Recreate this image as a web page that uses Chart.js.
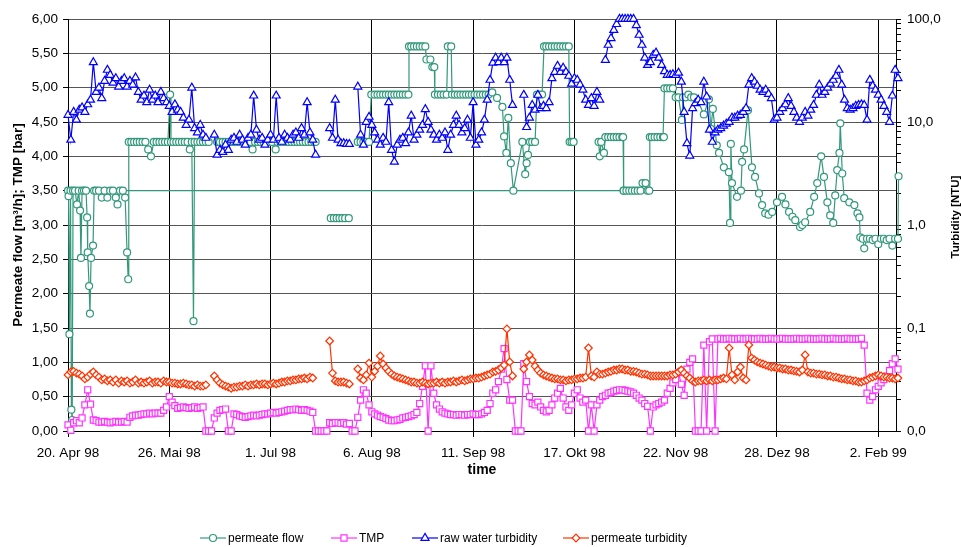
<!DOCTYPE html>
<html>
<head>
<meta charset="utf-8">
<script src="https://cdn.jsdelivr.net/npm/chart.js@4.4.0/dist/chart.umd.min.js"></script>
<style>
  html, body { margin: 0; padding: 0; background: #fff; }
</style>
</head>
<body>
<canvas id="chart" width="961" height="547"></canvas>
<script>
// x axis is "days since 20. Apr 98", one reading per day
const tickLabels = ['20. Apr 98', '26. Mai 98', '1. Jul 98', '6. Aug 98', '11. Sep 98', '17. Okt 98', '22. Nov 98', '28. Dez 98', '2. Feb 99']
const days = Array.from({ length: 296 }, (_, i) => i)

// raw water turbidity [NTU]
const rawTurbidity = [
  11.7, 6.7, 12.5, 10.5, 13.1, 13.8, 12.5, 14.8, 16.4, 38,
  19.5, 21.5, 17, 25, 32, 28.6, 24, 26.5, 22, 25,
  26.5, 22, 25, 23, 27, 19.5, 16.4, 18, 15.5, 20.5,
  16.4, 18, 15.5, 19.5, 17, 15.5, 14.3, 12.5, 14.8, 13.1,
  12.5, 11, 9.35, 10.5, 21.5, 8.7, 7.9, 9.35, 7.5, 7,
  null, null, 7.5, 4.8, 5.35, 5.1, 6, 5.35, 6.7, 7,
  6.4, 7.5, 6.7, 6, 7, 7.5, 18, 8.4, 6.7, 7,
  6, 6.7, 7.5, 6.7, 18, 7, 6.4, 7.5, 7, 6.7,
  7.5, 7.9, 7, 8.7, 7.5, 15.5, 7.9, 6.7, 4.8, null,
  null, null, null, 8.7, 7, 16.4, 6.7, 6.2, 6.2, 6.1,
  6.1, null, null, 22, 7.5, 6, 10, 11.2, 9.35, 7.9,
  6.7, 6, 7, 6.4, 15.5, 5.35, 4.1, 6, 6.7, 7,
  6.2, 7.9, 11.5, 6.7, 7.5, 8.4, 9.35, 13.3, 10, 8.4,
  7.5, 6.7, 7.5, 7, 7.9, 5.35, 7.5, 9.35, 11.5, 9.35,
  7.9, 8.7, 10.5, 7, 15.5, 6, 6.7, 7.9, 10.5, 16.4,
  25.6, 37.5, 42, 38, 42, 38, 42, 25.6, 14.6, null,
  null, null, 18.3, 8.9, 11, 14.6, 13.1, 18.3, 13.6, 14.3,
  13.6, 15.5, 26.5, 30.5, 35, 30.5, 33.5, 30.5, 28, 23.5,
  26.5, 25.6, 23, 20.5, 16.4, 14.6, 17, 14.3, 19.5, 16.4,
  null, 40, 56, 65, 78, 89, 100, 100, 100, 100,
  100, 100, 87, 70, 56, 42, 35.7, 38, 44.7, 47,
  42, 35.7, 31, 28.6, 28.6, 29, 28.6, 30, 24.5, 12.5,
  6.2, 4.7, 13.6, 15.2, 16.4, 15.5, 24.5, 17.6, 8.4, 6.4,
  7.9, 8.4, 8.7, 9.2, 9.6, 10, 11, 11, 11.5, 11.7,
  12.5, 13.6, 23, 26.6, 24.5, 22.4, 20.5, 19.5, 20.5, 18.7,
  17, 10.5, 11, 12.5, 13.6, 14.8, 17, 14.3, 12.5, 11,
  10, 11, 12.5, 11.5, 13.1, 14.6, 18.3, 23, 18.3, 19.5,
  21.5, 23.5, 25.6, 28, 32, 23, 16.4, 13.6, 13.1, 13.6,
  14.3, 14.6, 14.8, 14.6, 10.5, 25.6, 22.4, 20.5, 18.3, 16.4,
  14.3, 12.5, 10, 18, 32, 26.6
]

// permeate turbidity [NTU]
const permeateTurbidity = [
  .035, .0374, .038, .0365, .0357, .0342, .032, .0334, .0357, .0374,
  .035, .0334, .0313, .032, .0306, .0313, .0299, .0313, .0292, .0306,
  .0299, .0306, .0292, .0299, .0313, .0292, .0299, .0292, .0299, .0306,
  .0292, .0299, .0299, .0292, .0306, .0299, .0299, .0292, .0292, .0286,
  .0286, .0292, .0286, .028, .028, .0273, .028, .0273, .0273, .028,
  null, null, .0342, .0313, .0292, .028, .0273, .0267, .026, .0267,
  .0267, .0273, .0273, .028, .0273, .028, .028, .0286, .028, .0286,
  .0286, .028, .0286, .0292, .0286, .0292, .0299, .0299, .0306, .0306,
  .0313, .0313, .032, .032, .0327, .032, .0334, .0327, null, null,
  null, null, null, .0748, .0365, .0306, .0299, .0299, .0299, .0292,
  .0286, null, null, .04, .0327, .0313, .035, .0457, .0334, .038,
  .0427, .0535, .0447, .0409, .038, .0357, .0342, .0334, .0327, .032,
  .0313, .0306, .0299, .0299, .0292, .0292, .0299, .0292, .0286, .0292,
  .0292, .0299, .0292, .0299, .0292, .0299, .0299, .0306, .0299, .0306,
  .0313, .0306, .0313, .032, .032, .0327, .0327, .0334, .0342, .035,
  .0357, .0374, .038, .0391, .0409, .0437, .098, .0468, .0342, null,
  null, null, .04, .0468, .0547, .0489, .0427, .0391, .0365, .035,
  .0342, .0334, .0327, .032, .032, .0313, .0313, .0306, .0313, .0313,
  .032, .032, .0327, .0327, .0334, .064, .0342, .0334, .0374, .0357,
  .0357, .0365, .0374, .038, .0391, .0391, .04, .04, .0391, .0391,
  .038, .038, .0374, .0365, .0357, .0357, .035, .0342, .0342, .0342,
  .0342, .0342, .0342, .0342, .035, .035, .0357, .0374, .0391, .0365,
  .0342, .0327, .0306, .0299, .0306, .0306, .0313, .0306, .0313, .0306,
  .0313, .0313, .032, .0327, .032, .064, .035, .0313, .0374, .0418,
  .0327, .0313, .0684, .0511, .0489, .0468, .0457, .0447, .0437, .0427,
  .0418, .0418, .0409, .0409, .04, .04, .0391, .0391, .0383, .038,
  .0374, .0391, .0547, .0374, .0365, .0365, .0357, .0357, .035, .035,
  .0342, .0342, .0334, .0334, .0327, .032, .032, .0313, .0313, .0306,
  .0306, .0299, .0299, .0306, .0313, .0327, .0334, .0342, .035, .0342,
  .0334, .0334, .0327, .0327, .032, .0327
]

// TMP [bar]
const tmp = [
  0.09, 0.01, 0.12, 0.15, 0.12, 0.19, 0.38, 0.6, 0.39, 0.16,
  0.15, 0.13, 0.13, 0.14, 0.13, 0.12, 0.13, 0.14, 0.13, 0.13,
  0.14, 0.13, 0.2, 0.22, 0.23, 0.23, 0.24, 0.25, 0.25, 0.26,
  0.25, 0.26, 0.26, 0.26, 0.3, 0.35, 0.5, 0.42, 0.37, 0.33,
  0.34, 0.35, 0.34, 0.33, 0.34, 0.35, 0.33, 0.34, 0.35, 0,
  0, 0, 0.19, 0.26, 0.3, 0.31, 0.32, 0, 0, 0.25,
  0.24, 0.22, 0.21, 0.2, 0.21, 0.22, 0.23, 0.22, 0.23, 0.24,
  0.25, 0.25, 0.26, 0.27, 0.26, 0.27, 0.28, 0.29, 0.3, 0.31,
  0.31, 0.32, 0.31, 0.3, 0.31, 0.3, 0.29, 0.27, 0, 0,
  0, 0, 0, 0.12, 0.11, 0.12, 0.12, 0.11, 0.12, 0.1,
  0.11, 0, 0, 0.2, 0.45, 0.6, 0.55, 0.38, 0.28, 0.25,
  0.23, 0.21, 0.2, 0.18, 0.16, 0.15, 0.15, 0.16, 0.17, 0.19,
  0.2, 0.21, 0.22, 0.24, 0.27, 0.4, 0.65, 0.95, 0, 0.95,
  0.55, 0.38, 0.32, 0.28, 0.26, 0.25, 0.24, 0.24, 0.23, 0.24,
  0.24, 0.23, 0.24, 0.24, 0.25, 0.24, 0.24, 0.25, 0.27, 0.3,
  0.4, 0.55, 0.6, 0.72, 0.9, 1.2, 0.75, 0.45, 0.45, 0,
  0, 0, 0.98, 0.72, 0.5, 0.4, 0.38, 0.42, 0.35, 0.3,
  0.28, 0.3, 0.38, 0.48, 0.55, 0.62, 0.48, 0.35, 0.3, 0.38,
  0.55, 0.6, 0.48, 0.42, 0.45, 0, 0.38, 0, 0.38, 0.45,
  0.5, 0.52, 0.55, 0.56, 0.58, 0.59, 0.6, 0.6, 0.59, 0.58,
  0.57, 0.55, 0.52, 0.48, 0.45, 0.4, 0.36, 0, 0.35, 0.38,
  0.4, 0.42, 0.45, 0.55, 0.62, 0.7, 0.75, 0.85, 0.68, 0.52,
  0.9, 1.0, 1.05, 0, 0, 0, 1.25, 0, 1.3, 1.34,
  0, 1.34, 1.35, 1.34, 1.34, 1.35, 1.34, 1.34, 1.34, 1.35,
  1.34, 1.34, 1.35, 1.34, 1.34, 1.34, 1.35, 1.34, 1.34, 1.34,
  1.35, 1.34, 1.34, 1.34, 1.35, 1.34, 1.34, 1.34, 1.34, 1.35,
  1.34, 1.34, 1.34, 1.35, 1.34, 1.34, 1.34, 1.34, 1.35, 1.34,
  1.34, 1.34, 1.35, 1.34, 1.34, 1.34, 1.34, 1.35, 1.34, 1.34,
  1.34, 1.34, 1.35, 1.25, 0.55, 0.45, 0.5, 0.6, 0.65, 0.7,
  0.75, 0.8, 0.88, 0.98, 1.05, 0.9
]

// permeate flow [m3/h] - kept in the logger's row order (first row is a late entry)
const flowDays = [
  197.5, 0, 0.2, 0.5, 0.9, 1.2, 1.5, 1.8, 2.5, 3.2, 3.8, 4.3, 4.6, 5, 5.7, 6.4, 6.8, 7, 7.5, 7.8, 8.2, 8.9, 9.3,
  10, 11, 12, 13, 14, 15, 16, 17, 17.6, 18.5, 19.5, 20.3, 21, 21.4, 21.6,
  22.5, 23.5, 24.5, 25.5, 26.5, 27.5, 28.5, 29.5, 30.5, 31.5, 32.5, 33.5, 34.5, 35.5, 36.3, 36.6,
  37.5, 38.5, 39.5, 40.5, 41.5, 42.5, 43.3, 44, 44.6, 45, 46, 47, 48, 49, 50, 51,
  53, 54, 55, 56, 57, 58, 59, 60, 61, 62, 63, 64, 65, 65.6,
  66.5, 67.5, 68.5, 69.5, 70.5, 71.5, 72.5, 73.8,
  74.5, 75.5, 76.5, 77.5, 78.5, 79.5, 80.5, 81.5, 82.5, 83.5, 84.5, 85.5, 86.5, 87.5, 88, 89,
  93.4, 94.5, 95.5, 96.5, 97.5, 98.5, 99.8, 101,
  103, 104, 105, 106, 107, 107.8, 109, 110, 111, 112, 113, 114, 115, 116, 117, 118, 119, 120, 121,
  121.2, 122, 123, 124, 125, 126, 127, 127.4, 128.8, 129.5, 130.2, 130.4, 131.5, 132.5, 133.5, 134.6,
  135, 136.2, 136.5, 137.5, 138.5, 139.5, 140.5, 141.5, 142.5, 143.5, 144.5, 145.5, 146.5, 147.5, 148.5, 149.5,
  150.8, 152.5, 154.4, 155, 155.8, 156.5, 157.4, 158.3,
  161.5, 162.5, 163, 163.5, 164.2, 165, 166, 166.7, 167.5, 168.5, 169.2,
  170, 171, 172, 173, 174, 175, 176, 177, 178, 178.3, 179, 179.7, 181,
  188.6, 189, 189.5, 190.5, 191, 192, 193, 194, 195, 196, 197, 197.3,
  197.5, 198.5, 199.5, 200.5, 201.5, 202.5, 203.5, 204.2, 205.3, 206, 206.6,
  206.8, 207.5, 208.5, 209.5, 210.5, 211.5, 211.8, 212, 213, 214, 215,
  216, 217, 218.2, 218.6, 219.5, 220.5, 221.5, 222.5, 224, 226, 227.8, 228.5, 229.2, 230.6, 231.4,
  233.1, 234.9, 235.3, 235.6, 236, 237.8, 239.2, 239.6, 240.3, 241.7, 243.1, 244.2, 245.6, 246.7, 247.8,
  249, 250.3, 252, 253.8, 255, 256.3, 257.5, 258.5, 260.2, 261, 262, 263.8, 265.2, 266.3, 267.7,
  268.7, 269.9, 270.9, 272, 272.7, 273.4, 274.2, 274.5, 275.2, 275.9, 277.7, 279.5, 280.6, 281.3, 281.6,
  282.5, 283, 284, 285, 286, 287, 288, 289, 290, 291, 292, 293, 294, 295, 295.2
]
const permeateFlow = [
  3.5, 3.5, 3.42, 1.41, 3.5, 0.31, 0.16, 3.5, 3.5, 3.3, 3.5, 3.21, 2.52, 3.5, 3.5, 3.5, 3.11, 2.6, 2.11, 1.71, 2.52, 2.7, 3.5,
  3.5, 3.5, 3.4, 3.5, 3.4, 3.5, 3.5, 3.4, 3.3, 3.5, 3.5, 3.4, 2.6, 2.21, 4.21,
  4.21, 4.21, 4.21, 4.21, 4.21, 4.21, 4.1, 4.0, 4.21, 4.21, 4.21, 4.21, 4.21, 4.21, 4.9, 4.21,
  4.21, 4.21, 4.21, 4.21, 4.21, 4.21, 4.1, 4.21, 1.6, 4.21, 4.21, 4.21, 4.21, 4.21, 4.21, null,
  4.21, 4.21, 4.21, 4.21, 4.21, 4.21, 4.21, 4.21, 4.21, 4.21, 4.21, 4.21, 4.21, 4.1,
  4.21, 4.21, 4.21, 4.21, 4.21, 4.21, 4.21, 4.1,
  4.21, 4.21, 4.21, 4.21, 4.21, 4.21, 4.21, 4.21, 4.21, 4.21, 4.21, 4.21, 4.21, 4.21, 4.21, null,
  3.1, 3.1, 3.1, 3.1, 3.1, 3.1, 3.1, null,
  4.21, 4.21, 4.21, 4.21, 4.21, 4.9, 4.9, 4.9, 4.9, 4.9, 4.9, 4.9, 4.9, 4.9, 4.9, 4.9, 4.9, 4.9, 4.9,
  5.6, 5.6, 5.6, 5.6, 5.6, 5.6, 5.6, 5.41, 5.41, 5.3, 5.3, 4.9, 4.9, 4.9, 4.9, 4.9,
  5.6, 5.6, 4.9, 4.9, 4.9, 4.9, 4.9, 4.9, 4.9, 4.9, 4.9, 4.9, 4.9, 4.9, 4.9, 4.9,
  4.93, 4.85, 4.72, 4.29, 4.05, 4.56, 3.9, 3.5,
  4.21, 3.74, 3.9, 4.02, 4.21, 4.21, 4.21, 4.9, 4.9, 4.9, 5.6,
  5.6, 5.6, 5.6, 5.6, 5.6, 5.6, 5.6, 5.6, 5.6, 4.21, 4.21, 4.21, null,
  4.21, 4.0, 4.21, 4.05, 4.28, 4.28, 4.28, 4.28, 4.28, 4.28, 4.28, 4.28,
  3.5, 3.5, 3.5, 3.5, 3.5, 3.5, 3.5, 3.61, 3.61, 3.5, 3.5,
  4.28, 4.28, 4.28, 4.28, 4.28, 4.28, 4.28, 4.99, 4.99, 4.99, 4.99,
  4.86, 4.86, 4.53, 4.86, 4.86, 4.9, 4.86, 4.86, 4.8, 4.61, 4.83, 4.4, 4.69, 4.16, 4.05,
  3.84, 3.77, 3.03, 4.18, 3.61, 3.41, 3.5, 3.92, 4.1, 4.67, 3.84, 3.7, 3.46, 3.29, 3.17,
  3.15, 3.19, 3.33, 3.41, 3.3, 3.19, 3.12, 3.07, 2.97, 3.0, 3.04, 3.19, 3.41, 3.61, 4.0,
  3.7, 3.33, 3.14, 3.03, 3.43, 3.8, 4.05, 4.48, 3.75, 3.39, 3.33, 3.29, 3.17, 3.11, 2.82,
  2.8, 2.66, 2.8, 2.8, 2.78, 2.8, 2.72, 2.8, 2.8, 2.78, 2.8, 2.7, 2.8, 2.8, 3.71
]

const GREEN = '#33997a'
const PINK = '#ff33ff'
const BLUE = '#0000ff'
const RED = '#ff3300'
const FONT = '"Liberation Sans", Arial, sans-serif'

Chart.defaults.font.family = FONT
Chart.defaults.font.size = 13.5
Chart.defaults.color = '#000'

const isDecade = v => Math.abs(Math.log10(v) - Math.round(Math.log10(v))) < 1e-9
const comma = (v, d) => v.toFixed(d).replace('.', ',')

function series(label, data, color, style, radius, axis, order) {
  return {
    label, data, yAxisID: axis, order,
    borderColor: color, borderWidth: 1.2,
    pointStyle: style, pointRadius: radius,
    pointBackgroundColor: '#fff', pointBorderColor: color, pointBorderWidth: 1.2,
    spanGaps: false, clip: false, tension: 0
  }
}

const legendItems = [
  { text: 'permeate flow', color: GREEN, style: 'circle', r: 3.5, x: 200 },
  { text: 'TMP', color: PINK, style: 'rect', r: 4.3, x: 331 },
  { text: 'raw water turbidity', color: BLUE, style: 'triangle', r: 4.6, x: 412 },
  { text: 'permeate turbidity', color: RED, style: 'rectRot', r: 3.8, x: 563 }
]

// legend with line+marker symbols and the right axis title (reads bottom-up)
const extras = {
  id: 'extras',
  afterDraw(chart) {
    const c = chart.ctx
    c.save()
    c.fillStyle = '#000'
    c.font = 'bold 11.5px ' + FONT
    c.textAlign = 'center'
    c.textBaseline = 'middle'
    c.translate(956, 217)
    c.rotate(-Math.PI / 2)
    c.fillText('Turbidity [NTU]', 0, 0)
    c.restore()

    const y = 538
    legendItems.forEach(item => {
      c.save()
      c.strokeStyle = item.color
      c.lineWidth = 1.2
      c.beginPath()
      c.moveTo(item.x, y)
      c.lineTo(item.x + 26, y)
      c.stroke()
      c.fillStyle = '#fff'
      c.lineWidth = 1.2
      Chart.helpers.drawPoint(c, { pointStyle: item.style, radius: item.r, rotation: 0, borderWidth: 1.2 }, item.x + 13, y)
      c.fillStyle = '#000'
      c.font = '12px ' + FONT
      c.textAlign = 'left'
      c.textBaseline = 'middle'
      c.fillText(item.text, item.x + 28, y + 1)
      c.restore()
    })
  }
}

new Chart(document.getElementById('chart'), {
  type: 'line',
  data: {
    labels: days,
    datasets: [
      series('permeate turbidity', permeateTurbidity, RED, 'rectRot', 3.8, 'y1', 1),
      series('raw water turbidity', rawTurbidity, BLUE, 'triangle', 4.6, 'y1', 2),
      series('TMP', tmp, PINK, 'rect', 4.3, 'y', 3),
      series('permeate flow', flowDays.map((d, i) => ({ x: d, y: permeateFlow[i] })), GREEN, 'circle', 3.5, 'y', 4)
    ]
  },
  options: {
    responsive: false,
    animation: false,
    devicePixelRatio: 1,
    layout: { padding: { top: 19, left: 0, right: 0, bottom: 0 } },
    plugins: { legend: { display: false }, tooltip: { enabled: false } },
    scales: {
      x: {
        type: 'linear', min: 0, max: 294.3,
        afterFit: s => { s.height = 116 },
        ticks: {
          stepSize: 36, includeBounds: false, autoSkip: false, maxRotation: 0, padding: 8,
          callback: v => tickLabels[Math.round(v / 36)] || ''
        },
        grid: { color: '#000', tickColor: '#000', tickLength: 6 },
        border: { color: '#000' },
        title: { display: true, text: 'time', font: { size: 14, weight: 'bold' }, padding: { top: 0, bottom: 68 } }
      },
      y: {
        position: 'left', min: 0, max: 6,
        afterFit: s => { s.width = 68 },
        ticks: { stepSize: 0.5, padding: 5, callback: v => comma(v, 2) },
        grid: { color: '#555', tickColor: '#000', tickLength: 5 },
        border: { color: '#000' },
        title: { display: true, text: 'Permeate flow [m³/h]; TMP [bar]', font: { size: 13.5, weight: 'bold' }, padding: { top: 10, bottom: 0 } }
      },
      y1: {
        type: 'logarithmic', position: 'right', min: 0.01, max: 100,
        afterFit: s => { s.width = 65 },
        afterBuildTicks: s => {
          s.ticks = s.ticks.filter(t => {
            const m = t.value / Math.pow(10, Math.floor(Math.log10(t.value) + 1e-9))
            return Math.abs(m - Math.round(m)) < 1e-6
          })
        },
        ticks: { autoSkip: false, padding: 6, callback: v => isDecade(v) ? comma(v, 1) : '' },
        grid: { drawOnChartArea: false, color: '#000', tickLength: 5 },
        border: { color: '#000' }
      }
    }
  },
  plugins: [extras]
})
</script>
</body>
</html>
